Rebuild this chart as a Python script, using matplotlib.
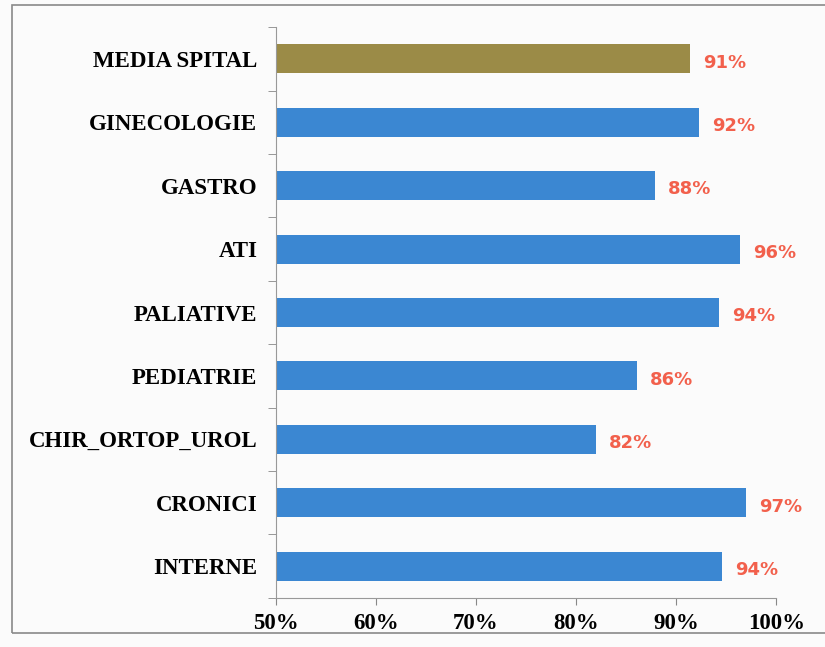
#!/usr/bin/env python3
import matplotlib.pyplot as plt
from matplotlib.patches import Rectangle
import numpy as np

# categories listed bottom to top
categories = ["INTERNE", "CRONICI", "CHIR_ORTOP_UROL", "PEDIATRIE", "PALIATIVE",
              "ATI", "GASTRO", "GINECOLOGIE", "MEDIA SPITAL"]
values = [94.6, 97.0, 82.0, 86.1, 94.3, 96.4, 87.9, 92.3, 91.4]
labels = ["94%", "97%", "82%", "86%", "94%", "96%", "88%", "92%", "91%"]
x_ticks = [50, 60, 70, 80, 90, 100]
x_tick_labels = ["50%", "60%", "70%", "80%", "90%", "100%"]

BLUE = "#3b87d2"
OLIVE = "#9b8b47"
RED = "#f2604c"


def main() -> None:
    fig = plt.figure(figsize=(8.25, 6.47), dpi=100)
    fig.patch.set_facecolor("#fbfbfb")
    fig.add_artist(Rectangle((0.015, 0.022), 1.0, 0.97, transform=fig.transFigure,
                             fill=False, edgecolor="#8a8a8a", linewidth=1.2))

    ax = fig.add_axes([0.334, 0.076, 0.607, 0.882])
    ax.set_facecolor("none")
    y = np.arange(len(categories))
    colors = [BLUE] * (len(categories) - 1) + [OLIVE]
    ax.barh(y, [v - 50 for v in values], left=50, height=0.46, color=colors)

    for yi, v, lab in zip(y, values, labels):
        ax.text(v + 1.3, yi - 0.06, lab, color=RED, fontsize=13, fontweight="bold",
                family="DejaVu Sans", va="center", ha="left")

    ax.set_xlim(50, 100)
    ax.set_ylim(-0.5, len(categories) - 0.5)
    ax.set_xticks(x_ticks)
    ax.set_xticklabels(x_tick_labels, family="Liberation Serif", fontweight="bold", fontsize=16.5)
    ax.set_yticks(y)
    ax.set_yticklabels(categories, family="Liberation Serif", fontweight="bold", fontsize=16.5)
    ax.tick_params(axis="y", length=0, pad=13)
    ax.set_yticks(np.arange(-0.5, len(categories), 1.0), minor=True)
    ax.tick_params(axis="y", which="minor", length=6, color="#888888", direction="out")
    ax.tick_params(axis="x", length=5, color="#888888", direction="out", pad=6)

    for side in ["top", "right"]:
        ax.spines[side].set_visible(False)
    for side in ["left", "bottom"]:
        ax.spines[side].set_color("#999999")

    fig.savefig("out.png", dpi=100, facecolor=fig.get_facecolor())
    plt.close(fig)


if __name__ == "__main__":
    main()
